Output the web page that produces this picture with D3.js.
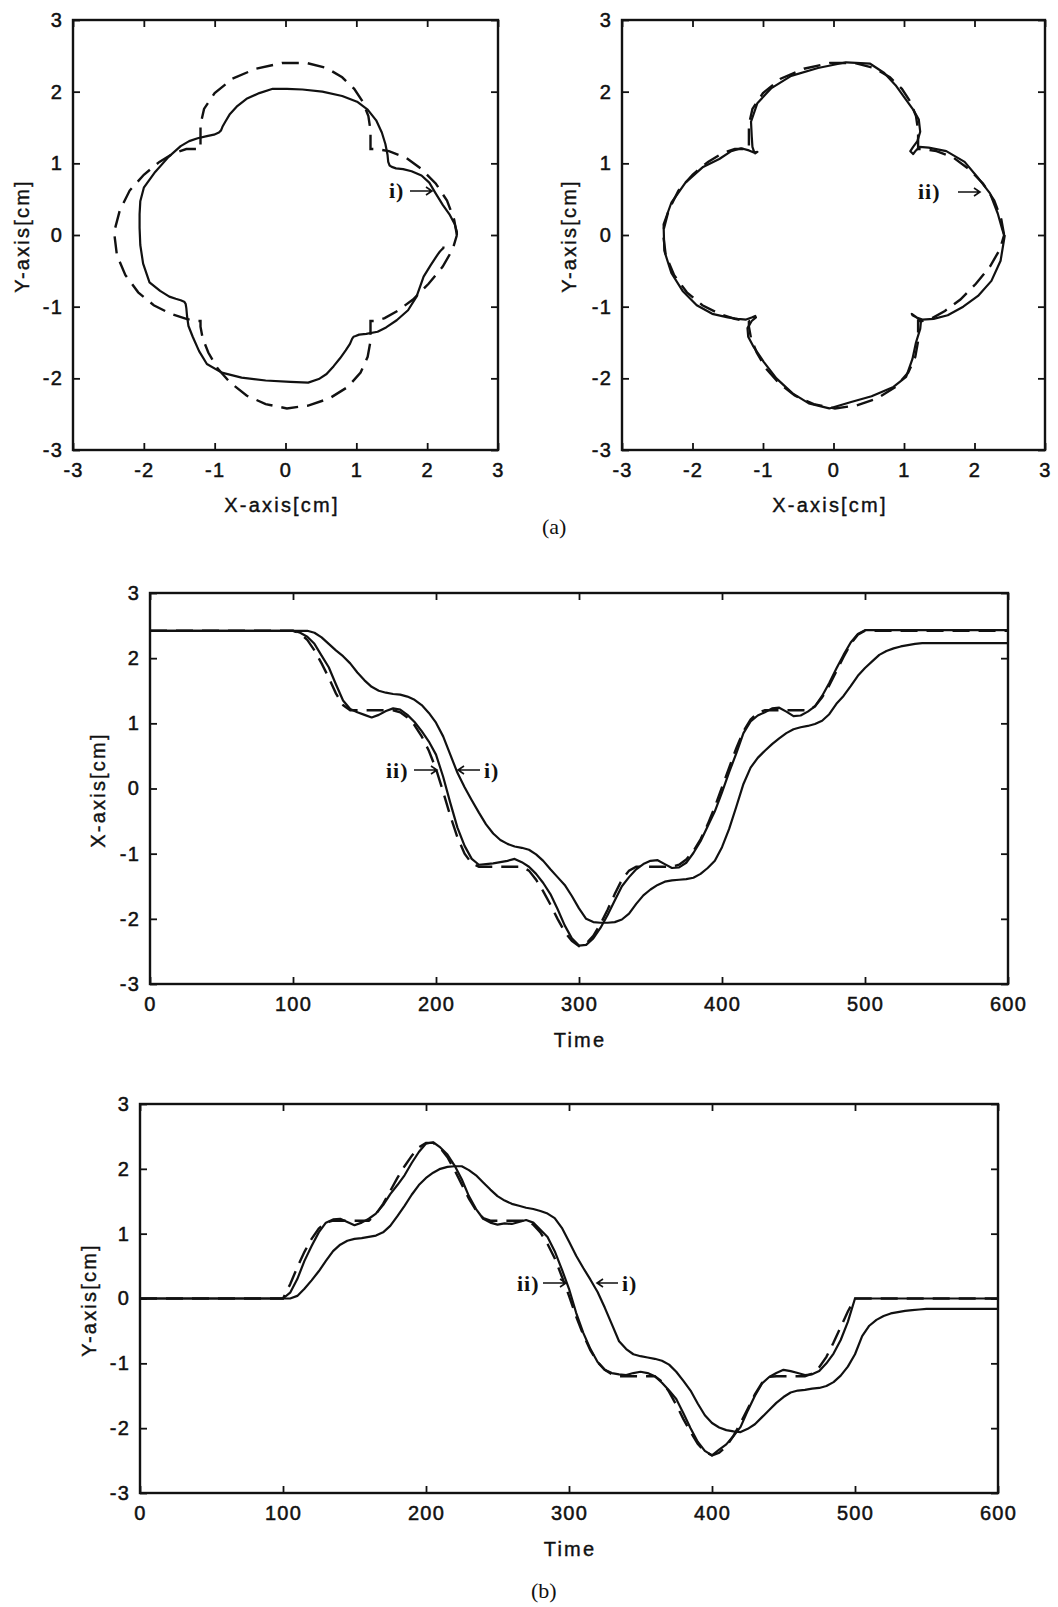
<!DOCTYPE html>
<html>
<head>
<meta charset="utf-8">
<script src="https://cdn.jsdelivr.net/npm/d3@7"></script>
<style>
  body { margin: 0; background: #fff; }
  svg { display: block; }
  .tick line { stroke: #111; stroke-width: 1.8; }
  .tick text { font-family: "Liberation Sans", Arial, sans-serif; font-size: 20px; fill: #111; stroke: #111; stroke-width: 0.5px; letter-spacing: 1.2px; }
  .frame { fill: none; stroke: #111; stroke-width: 2.4; }
  .lab { font-family: "Liberation Sans", Arial, sans-serif; font-size: 20px; fill: #111; stroke: #111; stroke-width: 0.4px; letter-spacing: 2.2px; }
  .note { font-family: "Liberation Serif", "Times New Roman", serif; font-size: 22px; fill: #111; }
  .note.bold { font-weight: bold; letter-spacing: 1px; }
  .arrow { fill: none; stroke: #111; stroke-width: 1.6; }
  .solid { fill: none; stroke: #111; stroke-width: 2.2; stroke-linejoin: round; }
  .dash { fill: none; stroke: #111; stroke-width: 2.4; stroke-dasharray: 17 9; }
</style>
</head>
<body>
<div class="chart"></div>
<script>
// sample times (shared by every series)
const T = [0,
  100,105,110,115,120,125,130,135,140,145,
  150,155,160,165,170,175,180,185,190,195,
  200,205,210,215,220,225,230,235,240,245,
  250,255,260,265,270,275,280,285,290,295,
  300,305,310,315,320,325,330,335,340,345,
  350,355,360,365,370,375,380,385,390,395,
  400,405,410,415,420,425,430,435,440,445,
  450,455,460,465,470,475,480,485,490,495,
  500,505,510,515,520,525,530,535,540,545,
  550,600];

// reference trajectory (dashed)
const refX = [2.42,
  2.42,2.38,2.28,2.12,1.92,1.70,1.46,1.28,1.20,1.20,
  1.20,1.20,1.20,1.20,1.20,1.17,1.09,0.97,0.80,0.58,
  0.30,-0.05,-0.42,-0.75,-1.00,-1.15,-1.20,-1.20,-1.20,-1.20,
  -1.20,-1.20,-1.20,-1.26,-1.40,-1.58,-1.78,-2.00,-2.20,-2.34,
  -2.42,-2.38,-2.26,-2.08,-1.86,-1.62,-1.40,-1.26,-1.20,-1.20,
  -1.20,-1.20,-1.20,-1.20,-1.17,-1.09,-0.96,-0.78,-0.55,-0.28,
  0.02,0.32,0.62,0.88,1.06,1.16,1.20,1.20,1.20,1.20,
  1.20,1.20,1.20,1.26,1.40,1.58,1.80,2.02,2.22,2.36,
  2.42,2.42,2.42,2.42,2.42,2.42,2.42,2.42,2.42,2.42,
  2.42,2.42];
const refY = [0,
  0.00,0.22,0.48,0.72,0.92,1.08,1.17,1.20,1.20,1.20,
  1.20,1.20,1.20,1.30,1.46,1.66,1.86,2.04,2.20,2.33,
  2.40,2.40,2.32,2.18,1.98,1.76,1.54,1.36,1.24,1.20,
  1.20,1.20,1.20,1.20,1.20,1.14,1.02,0.84,0.62,0.34,
  0.04,-0.28,-0.56,-0.80,-0.98,-1.10,-1.17,-1.20,-1.20,-1.20,
  -1.20,-1.20,-1.20,-1.28,-1.44,-1.64,-1.86,-2.06,-2.24,-2.36,
  -2.42,-2.38,-2.28,-2.12,-1.92,-1.70,-1.48,-1.30,-1.21,-1.20,
  -1.20,-1.20,-1.20,-1.20,-1.16,-1.06,-0.90,-0.68,-0.44,-0.20,
  0,0,0,0,0,0,0,0,0,0,
  0,0];

// case i)
const iX = [2.42,
  2.42,2.42,2.42,2.39,2.32,2.22,2.12,2.03,1.92,1.78,
  1.66,1.56,1.50,1.47,1.45,1.44,1.41,1.36,1.28,1.16,
  1.01,0.80,0.52,0.24,0.02,-0.18,-0.37,-0.55,-0.69,-0.79,
  -0.85,-0.89,-0.91,-0.94,-1.01,-1.11,-1.24,-1.36,-1.48,-1.65,
  -1.84,-2.00,-2.05,-2.06,-2.06,-2.05,-2.01,-1.92,-1.77,-1.64,
  -1.55,-1.48,-1.43,-1.41,-1.40,-1.39,-1.37,-1.31,-1.22,-1.11,
  -0.90,-0.62,-0.28,0.07,0.32,0.47,0.58,0.68,0.77,0.85,
  0.91,0.94,0.96,0.99,1.04,1.14,1.30,1.42,1.57,1.73,
  1.85,1.95,2.05,2.11,2.15,2.18,2.20,2.22,2.23,2.23,
  2.23,2.23];
const iY = [0,
  0.00,0.00,0.04,0.15,0.28,0.42,0.58,0.73,0.83,0.89,
  0.92,0.93,0.95,0.97,1.02,1.12,1.27,1.43,1.60,1.75,
  1.86,1.94,2.00,2.03,2.04,2.04,1.98,1.90,1.79,1.68,
  1.58,1.51,1.46,1.43,1.40,1.38,1.35,1.31,1.24,1.09,
  0.88,0.66,0.47,0.29,0.10,-0.14,-0.40,-0.66,-0.78,-0.86,
  -0.89,-0.91,-0.93,-0.96,-1.02,-1.13,-1.27,-1.42,-1.62,-1.80,
  -1.92,-1.99,-2.03,-2.05,-2.06,-2.01,-1.94,-1.83,-1.72,-1.61,
  -1.52,-1.45,-1.42,-1.41,-1.39,-1.38,-1.35,-1.29,-1.19,-1.05,
  -0.86,-0.58,-0.42,-0.33,-0.27,-0.23,-0.21,-0.19,-0.18,-0.17,
  -0.16,-0.16];

// case ii)
const iiX = [2.42,
  2.42,2.39,2.33,2.22,2.04,1.86,1.60,1.35,1.22,1.17,
  1.13,1.09,1.13,1.19,1.23,1.21,1.13,1.02,0.88,0.72,
  0.52,0.18,-0.22,-0.60,-0.88,-1.08,-1.17,-1.16,-1.15,-1.13,
  -1.11,-1.08,-1.13,-1.20,-1.31,-1.45,-1.62,-1.85,-2.10,-2.30,
  -2.41,-2.40,-2.30,-2.14,-1.94,-1.72,-1.50,-1.36,-1.24,-1.16,
  -1.11,-1.10,-1.16,-1.22,-1.21,-1.14,-0.99,-0.81,-0.58,-0.35,
  -0.06,0.25,0.54,0.85,1.03,1.12,1.17,1.23,1.24,1.18,
  1.11,1.12,1.18,1.26,1.42,1.62,1.84,2.05,2.24,2.37,
  2.43,2.43,2.43,2.43,2.43,2.43,2.43,2.43,2.43,2.43,
  2.43,2.43];
const iiY = [0,
  0.00,0.09,0.30,0.58,0.81,1.02,1.17,1.22,1.23,1.18,
  1.13,1.17,1.23,1.31,1.44,1.61,1.75,1.90,2.09,2.26,
  2.39,2.41,2.33,2.22,2.05,1.84,1.58,1.38,1.23,1.17,
  1.14,1.16,1.15,1.18,1.21,1.17,1.06,0.95,0.73,0.45,
  0.15,-0.22,-0.53,-0.78,-0.98,-1.10,-1.15,-1.17,-1.18,-1.15,
  -1.13,-1.15,-1.20,-1.30,-1.42,-1.55,-1.77,-2.00,-2.21,-2.35,
  -2.42,-2.33,-2.25,-2.12,-1.98,-1.73,-1.50,-1.31,-1.21,-1.15,
  -1.10,-1.12,-1.15,-1.18,-1.17,-1.12,-1.00,-0.85,-0.64,-0.36,
  0,0,0,0,0,0,0,0,0,0,
  0,0];

// tick values
const posTicks = [-3,-2,-1,0,1,2,3];
const timeTicks = [0,100,200,300,400,500,600];

const width = 1058;
const height = 1607;

const svg = d3.select('.chart').append('svg')
  .attr('width', width)
  .attr('height', height)
  .attr('viewBox', [0, 0, width, height]);

const idx = d3.range(T.length);

// box with inward ticks on all four sides
function drawFrame(x, y, xt, yt) {
  const [x0, x1] = x.range();
  const [y0, y1] = y.range();
  const g = svg.append('g');
  g.append('g').attr('transform', `translate(0,${y0})`)
    .call(d3.axisBottom(x).tickValues(xt).tickSize(-7).tickPadding(13).tickFormat(d3.format('d')))
    .call(a => a.select('.domain').remove());
  g.append('g').attr('transform', `translate(0,${y1})`)
    .call(d3.axisTop(x).tickValues(xt).tickSize(-7).tickFormat(() => ''))
    .call(a => a.select('.domain').remove());
  g.append('g').attr('transform', `translate(${x0},0)`)
    .call(d3.axisLeft(y).tickValues(yt).tickSize(-7).tickPadding(10).tickFormat(d3.format('d')))
    .call(a => a.select('.domain').remove());
  g.append('g').attr('transform', `translate(${x1},0)`)
    .call(d3.axisRight(y).tickValues(yt).tickSize(-7).tickFormat(() => ''))
    .call(a => a.select('.domain').remove());
  // plain hyphen for negatives, like the original
  g.selectAll('.tick text').text(function() { return this.textContent.replace('\u2212', '-'); });
  g.append('rect').attr('class', 'frame')
    .attr('x', x0).attr('y', y1).attr('width', x1 - x0).attr('height', y0 - y1);
}

function label(txt, cx, cy, rotate) {
  svg.append('text').attr('class', 'lab')
    .attr('text-anchor', 'middle')
    .attr('dominant-baseline', rotate ? 'central' : 'auto')
    .attr('transform', `translate(${cx},${cy})` + (rotate ? ' rotate(-90)' : ''))
    .text(txt);
}

function note(txt, x, y, bold) {
  svg.append('text').attr('class', bold ? 'note bold' : 'note').attr('x', x).attr('y', y).text(txt);
}

// horizontal arrow, dir = 1 points right, -1 points left
function arrow(xa, xb, y, dir) {
  const tip = dir > 0 ? xb : xa;
  svg.append('path').attr('class', 'arrow')
    .attr('d', `M${xa},${y}H${xb}M${tip - 6 * dir},${y - 4}L${tip},${y}L${tip - 6 * dir},${y + 4}`);
}

// --- (a) trajectories in the plane --- //
function xyPlot(xr, ys, solidX, solidY) {
  const x = d3.scaleLinear().domain([-3, 3]).range(xr);
  const y = d3.scaleLinear().domain([-3, 3]).range(ys);
  const ref = d3.line().x(i => x(refX[i])).y(i => y(refY[i]));
  const act = d3.line().x(i => x(solidX[i])).y(i => y(solidY[i]));
  svg.append('path').datum(idx).attr('class', 'dash').attr('d', ref);
  svg.append('path').datum(idx).attr('class', 'solid').attr('d', act);
  drawFrame(x, y, posTicks, posTicks);
}

xyPlot([73, 498], [450, 20], iX, iY);
label('Y-axis[cm]', 22, 236, true);
label('X-axis[cm]', 282, 512, false);
note('i)', 389, 198, true);
arrow(410, 432, 191, 1);

xyPlot([622, 1045], [450, 20], iiX, iiY);
label('Y-axis[cm]', 569, 236, true);
label('X-axis[cm]', 830, 512, false);
note('ii)', 918, 199, true);
arrow(958, 980, 192, 1);

note('(a)', 542, 534, false);

// --- (b) time histories --- //
function timePlot(xr, ys, refS, iS, iiS) {
  const x = d3.scaleLinear().domain([0, 600]).range(xr);
  const y = d3.scaleLinear().domain([-3, 3]).range(ys);
  const line = s => d3.line().x(i => x(T[i])).y(i => y(s[i]));
  svg.append('path').datum(idx).attr('class', 'dash').attr('d', line(refS));
  svg.append('path').datum(idx).attr('class', 'solid').attr('d', line(iiS));
  svg.append('path').datum(idx).attr('class', 'solid').attr('d', line(iS));
  drawFrame(x, y, timeTicks, posTicks);
}

timePlot([150, 1008], [984, 593], refX, iX, iiX);
label('X-axis[cm]', 98, 790, true);
label('Time', 580, 1047, false);
note('ii)', 386, 778, true);
arrow(414, 437, 770, 1);
arrow(458, 480, 770, -1);
note('i)', 484, 778, true);

timePlot([140, 998], [1493, 1104], refY, iY, iiY);
label('Y-axis[cm]', 89, 1300, true);
label('Time', 570, 1556, false);
note('ii)', 517, 1291, true);
arrow(543, 566, 1283, 1);
arrow(597, 618, 1283, -1);
note('i)', 622, 1291, true);

note('(b)', 531, 1598, false);
</script>
</body>
</html>
